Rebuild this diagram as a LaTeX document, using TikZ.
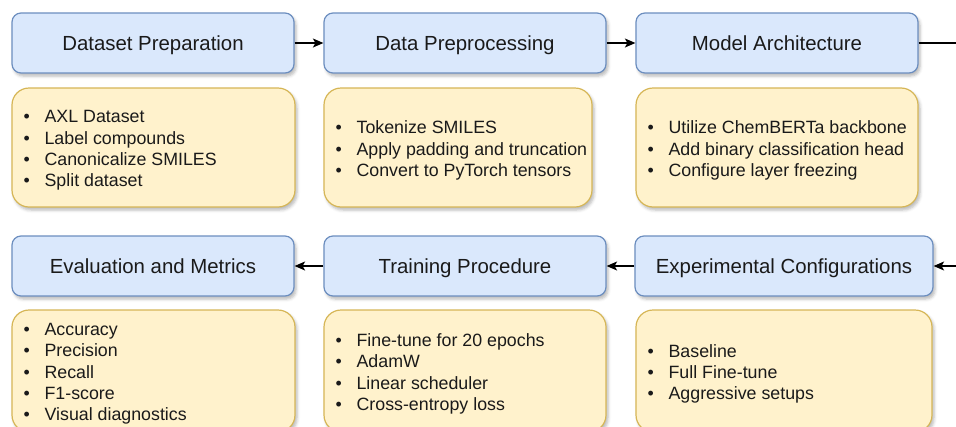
\documentclass[tikz,border=0pt]{standalone}
\usepackage{fontspec}
\setmainfont{Liberation Sans}
\usetikzlibrary{arrows.meta,shadows.blur}

\definecolor{headfill}{HTML}{DAE8FC}
\definecolor{headline}{HTML}{6C8EBF}
\definecolor{notefill}{HTML}{FFF2CC}
\definecolor{noteline}{HTML}{D6B656}
\definecolor{inktext}{HTML}{1A1A1A}

% one bulleted line of a note box
\newcommand\bulletline[1]{\makebox[21pt][l]{\textbullet}#1}

\tikzset{
  boxshadow/.style={blur shadow={shadow xshift=2pt, shadow yshift=-3pt,
      shadow blur radius=3pt, shadow opacity=28}},
  % title box; the text box is sized to the cap height so titles sit centred
  head/.style={draw=headline, fill=headfill, line width=1.2pt,
      rounded corners=9pt, minimum height=60pt, inner sep=0pt,
      text height=14.8pt, text depth=0pt,
      text=inktext, font=\fontsize{20.4}{24}\selectfont, boxshadow},
  note/.style={draw=noteline, fill=notefill, line width=1.2pt,
      rounded corners=17pt, inner sep=0pt, boxshadow},
  notetext/.style={anchor=west, align=left, inner sep=0pt, text=inktext,
      font=\fontsize{17.8}{21.3}\selectfont},
  flow/.style={line width=1.2pt, -{Stealth[length=10.5pt,width=9pt,inset=2.5pt]}},
  link/.style={line width=1.2pt},
}

\begin{document}
\begin{tikzpicture}[x=1pt,y=-1pt]
\useasboundingbox (0,0) rectangle (956,426);
\clip (0,0) rectangle (956,426);

% stage headers, top row
\node[head, minimum width=282pt] (prep)  at (153,43) {Dataset Preparation};
\node[head, minimum width=282pt] (proc)  at (465,43) {Data Preprocessing};
\node[head, minimum width=282pt] (arch)  at (777,43) {Model Architecture};

% stage headers, bottom row
\node[head, minimum width=282pt] (eval)  at (153,266) {Evaluation and Metrics};
\node[head, minimum width=282pt] (train) at (465,266) {Training Procedure};
\node[head, minimum width=298pt] (exper) at (784,266) {Experimental Configurations};

% detail boxes, top row
\node[note, minimum width=283pt, minimum height=119pt] (prepN) at (153.5,147.5) {};
\node[notetext] (prepT) at ([xshift=12pt,yshift=-3pt]prepN.west)
  {\bulletline{AXL Dataset}\\ \bulletline{Label compounds}\\
   \bulletline{Canonicalize SMILES}\\ \bulletline{Split dataset}};

\node[note, minimum width=268pt, minimum height=119pt] (procN) at (458,147.5) {};
\node[notetext] (procT) at ([xshift=12pt,yshift=-3pt]procN.west)
  {\bulletline{Tokenize SMILES}\\ \bulletline{Apply padding and truncation}\\
   \bulletline{Convert to PyTorch tensors}};

\node[note, minimum width=282pt, minimum height=119pt] (archN) at (777,147.5) {};
\node[notetext] (archT) at ([xshift=12pt,yshift=-3pt]archN.west)
  {\bulletline{Utilize ChemBERTa backbone}\\ \bulletline{Add binary classification head}\\
   \bulletline{Configure layer freezing}};

% detail boxes, bottom row
\node[note, minimum width=283pt, minimum height=122pt] (evalN) at (153.5,371) {};
\node[notetext] (evalT) at ([xshift=12pt,yshift=-3pt]evalN.west)
  {\bulletline{Accuracy}\\ \bulletline{Precision}\\ \bulletline{Recall}\\
   \bulletline{F1-score}\\ \bulletline{Visual diagnostics}};

\node[note, minimum width=282pt, minimum height=122pt] (trainN) at (465,371) {};
\node[notetext] (trainT) at ([xshift=12pt,yshift=-3pt]trainN.west)
  {\bulletline{Fine-tune for 20 epochs}\\ \bulletline{AdamW}\\
   \bulletline{Linear scheduler}\\ \bulletline{Cross-entropy loss}};

\node[note, minimum width=296pt, minimum height=122pt] (experN) at (784,371) {};
\node[notetext] (experT) at ([xshift=12pt,yshift=-3pt]experN.west)
  {\bulletline{Baseline}\\ \bulletline{Full Fine-tune}\\ \bulletline{Aggressive setups}};

% flow between stages
\coordinate (outR) at (956,43);
\coordinate (inR)  at (956,266);
\draw[flow] (prep.east) -- (proc.west);
\draw[flow] (proc.east) -- (arch.west);
\draw[link] (arch.east) -- (outR);
\draw[flow] (inR) -- (exper.east);
\draw[flow] (exper.west) -- (train.east);
\draw[flow] (train.west) -- (eval.east);
\end{tikzpicture}
\end{document}
